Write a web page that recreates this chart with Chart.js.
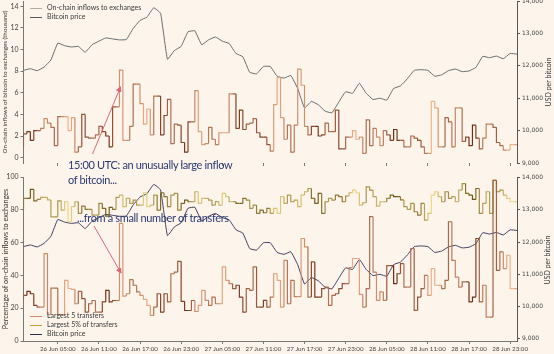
<!DOCTYPE html>
<html>
<head>
<meta charset="utf-8">
<script src="https://cdn.jsdelivr.net/npm/chart.js@4.4.1/dist/chart.umd.min.js"></script>
<style>
  body { margin: 0; width: 554px; height: 354px; overflow: hidden; position: relative; background: #fdf5ec; font-family: Lato, sans-serif; }
  canvas { position: absolute; left: 0; }
  .note { position: absolute; color: #2c3872; font-size: 11px; letter-spacing: -0.35px; white-space: nowrap; line-height: 1; }
  .lg { position: absolute; font-size: 7px; color: #3a3a3a; white-space: nowrap; line-height: 1; }
  .lg i { display: inline-block; width: 12px; height: 0; border-top: 1.2px solid; vertical-align: middle; margin-right: 5px; }
  .rt { position: absolute; font-size: 7px; color: #333; white-space: nowrap; transform: translate(-50%, -50%) rotate(-90deg); line-height: 1; }
</style>
</head>
<body>
<canvas id="topChart" width="554" height="186"></canvas>
<canvas id="bottomChart" width="554" height="188"></canvas>

<svg width="554" height="354" style="position:absolute;left:0;top:0">
  <defs>
    <marker id="head" markerWidth="6" markerHeight="6" refX="5" refY="3" orient="auto" markerUnits="userSpaceOnUse">
      <path d="M0,0 L6,3 L0,6 Z" fill="#d9687a"/>
    </marker>
  </defs>
  <line x1="92.5" y1="154" x2="120.5" y2="87" stroke="#d9687a" stroke-width="1" marker-end="url(#head)"/>
  <line x1="94" y1="226" x2="121" y2="273" stroke="#d9687a" stroke-width="1" marker-end="url(#head)"/>
</svg>

<div class="note" style="left:68px;top:159px">15:00 UTC: an unusually large inflow</div>
<div class="note" style="left:68px;top:174px">of bitcoin...</div>
<div class="note" style="left:77px;top:212px">...from a small number of transfers</div>

<div class="lg" style="left:30px;top:4px"><i style="border-color:#b3aaa3"></i>On-chain inflows to exchanges</div>
<div class="lg" style="left:30px;top:13px"><i style="border-color:#5a5a5c"></i>Bitcoin price</div>

<div class="lg" style="left:30px;top:312px"><i style="border-color:#d0886a"></i>Largest 5 transfers</div>
<div class="lg" style="left:30px;top:321px"><i style="border-color:#c9a132"></i>Largest 5% of transfers</div>
<div class="lg" style="left:30px;top:330px"><i style="border-color:#2b2d52"></i>Bitcoin price</div>

<div class="rt" style="left:548px;top:82px">USD per bitcoin</div>
<div class="rt" style="left:547px;top:260px">USD per bitcoin</div>

<script>
// half-hourly step data, 26 Jun 00:00 to 29 Jun 00:00 (hours from start)
const inflowThousand = [
  1.0, 2.2, 2.4, 1.6, 2.5, 2.5, 2.7, 3.6, 3.2, 2.8,
  1.1, 3.8, 3.8, 3.8, 2.5, 3.7, 0.5, 1.0, 4.0, 1.9,
  1.8, 1.8, 2.1, 2.9, 2.4, 2.0, 1.0, 4.7, 4.7, 8.1,
  1.6, 1.6, 2.9, 6.8, 6.8, 5.0, 3.1, 4.5, 2.1, 5.7,
  5.7, 2.1, 3.9, 5.4, 1.3, 3.1, 3.0, 1.4, 0.5, 3.3,
  3.3, 6.2, 2.4, 1.2, 1.3, 2.8, 1.7, 1.2, 2.3, 2.3,
  2.3, 5.9, 5.9, 2.7, 4.4, 2.6, 3.1, 3.2, 3.6, 2.3,
  1.9, 1.9, 1.2, 0.6, 4.9, 7.4, 3.7, 1.7, 3.0, 0.5,
  3.0, 8.2, 6.7, 2.9, 2.1, 2.9, 2.9, 2.0, 2.1, 3.2,
  2.4, 2.4, 4.4, 0.8, 0.8, 1.9, 1.9, 2.5, 1.7, 1.9,
  0.4, 3.5, 1.1, 2.7, 1.9, 1.1, 2.5, 2.1, 1.6, 2.6,
  1.6, 1.6, 1.0, 1.0, 2.0, 1.8, 1.6, 1.0, 0.4, 0.4,
  5.2, 4.6, 1.0, 1.0, 3.7, 3.3, 1.0, 4.6, 4.6, 1.5,
  1.9, 1.1, 3.0, 1.8, 0.8, 1.8, 3.1, 3.1, 2.8, 1.4,
  1.1, 0.7, 0.7, 1.2
];

const largest5Pct = [
  25.8, 27.8, 30.3, 28.8, 21.7, 20.7, 20.7, 53.3, 16, 32.3,
  32.3, 16, 16, 37, 32, 31.5, 22.7, 30.3, 25.8, 17.6,
  22.7, 24.7, 17.6, 17.6, 23.8, 30.9, 23.9, 24.7, 24.7, 71.7,
  27.4, 28.8, 37.4, 34, 29.9, 27.8, 25.4, 21.7, 15.6, 20.7,
  28.8, 17.6, 28.8, 23.8, 41, 42, 48.6, 24.2, 18.6, 18.6,
  24.7, 18, 21.7, 30.9, 24.8, 21.7, 26.8, 22.7, 22.7, 45.2,
  37, 35, 31.9, 34, 26.8, 17.6, 31.9, 30.9, 45.2, 20.7,
  20.7, 24.8, 20.7, 26.8, 41, 37, 20.7, 49.2, 22.7, 37,
  27, 27, 62.5, 57.4, 26.8, 48.2, 26.8, 26.8, 31.9, 32.9,
  21.7, 27.8, 28.8, 31.9, 35, 35, 44.8, 50.3, 50.3, 28.4,
  20.7, 31.9, 75.8, 42, 24.8, 29.9, 24.8, 46, 46, 35,
  41, 47.2, 32.9, 32.9, 56.4, 18.7, 26.8, 31.9, 40, 27.8,
  44.1, 34, 34, 31.9, 37, 72.7, 49.2, 39, 32.9, 36,
  36, 23.8, 26.8, 62.5, 23.8, 34, 14.6, 14.6, 98, 43.1,
  54.3, 44.1, 52.3, 31.9
];

const largest5PctOfTransfers = [
  80.2, 87, 87, 92.5, 85.5, 86.3, 87.6, 87.6, 86, 75.7,
  75.7, 85.5, 79.8, 84.9, 72.7, 81.9, 84.9, 77.8, 82.3, 80.2,
  80.2, 76.8, 76.8, 83.9, 80.9, 76.1, 81.5, 80.2, 87.6, 89,
  81.9, 87, 83.9, 85.9, 82.9, 82.9, 90.4, 81.9, 82.9, 89,
  79.8, 90.4, 88, 81.9, 89, 90, 79.8, 83.9, 85.9, 84.9,
  84.9, 91, 83.9, 87, 87, 85.9, 82.9, 85, 82.9, 90,
  88, 84.9, 84.9, 83.9, 83.9, 87, 85.9, 80.9, 82.9, 77.8,
  79.8, 78.2, 80.9, 77.8, 80.9, 77.8, 88, 83.9, 89, 84.9,
  85.9, 81.9, 89, 91, 93, 87, 83.9, 90, 77.8, 84.9,
  87, 85.9, 89, 88, 84.9, 88.4, 90.4, 92, 90.4, 82.9,
  84.3, 94, 92, 88, 82.3, 84.9, 84.9, 87, 89, 88,
  88, 86, 81.9, 80.2, 83.9, 78.8, 76.8, 83.9, 73.7, 77.8,
  89, 91, 88, 84.9, 91, 87, 88, 84.9, 92, 96,
  90, 89, 86.3, 93, 77.8, 83.9, 91, 77.8, 98, 91,
  92, 89, 87, 84.9
];

// hourly bitcoin price, USD
const bitcoinPrice = [
  11860, 11910, 11850, 11960, 12180, 12700, 12620, 12580, 12600, 12420,
  12650, 12760, 12860, 12830, 12800, 12810, 13150, 13400, 13500, 13790,
  13620, 12200, 12470, 12600, 13050, 13080, 12650, 12800, 12890, 12760,
  12690, 12380, 12280, 11800, 11750, 11980, 11980, 11680, 11620, 11700,
  11300, 10700, 10900, 10800, 10600, 10550, 10880, 11200, 11150, 11460,
  11150, 10960, 11000, 10940, 11300, 11380, 11600, 11860, 11880, 11860,
  11680, 11720, 11850, 11900, 11820, 11840, 11950, 12290, 12250, 12300,
  12220, 12380, 12360
];

const tickHours = [5, 11, 17, 23, 29, 35, 41, 47, 53, 59, 65, 71];
const tickLabels = ['26 Jun 05:00', '26 Jun 11:00', '26 Jun 17:00', '26 Jun 23:00',
  '27 Jun 05:00', '27 Jun 11:00', '27 Jun 17:00', '27 Jun 23:00',
  '28 Jun 05:00', '28 Jun 11:00', '28 Jun 17:00', '28 Jun 23:00'];
const inflowTicks = [0, 2, 4, 6, 8, 10, 12, 14];
const pctTicks = [0, 20, 40, 60, 80, 100];
const priceTicks = [9000, 10000, 11000, 12000, 13000, 14000];

// step series: each value holds for half an hour, close the last step at 72h
function stepPoints(values) {
  const pts = values.map((v, i) => ({ x: i / 2, y: v }));
  pts.push({ x: values.length / 2, y: values[values.length - 1] });
  return pts;
}
const pricePoints = bitcoinPrice.map((v, i) => ({ x: i, y: v }));

function mix(a, b, t) {
  const pa = a.match(/\w\w/g).map(h => parseInt(h, 16));
  const pb = b.match(/\w\w/g).map(h => parseInt(h, 16));
  return 'rgb(' + pa.map((c, i) => Math.round(c + (pb[i] - c) * t)).join(',') + ')';
}
// shading along the line, light to dark
function shade(light, dark) {
  return ctx => {
    const i = ctx.p0DataIndex;
    const t = 0.5 + (Math.sin(i * 0.83) + Math.sin(i * 0.29 + 1.3)) / 4;
    return mix(light, dark, t);
  };
}

const tickFont = { family: 'Lato', size: 7 };
const xFont = { family: 'Lato', size: 6.2 };
const rightFont = { family: 'DejaVu Sans', size: 6 };

function fixedTicks(list) {
  return axis => { axis.ticks = list.map(v => ({ value: v })); };
}

function yLeft(min, max, ticks, title, titleSize) {
  return {
    position: 'left', min: min, max: max,
    afterBuildTicks: fixedTicks(ticks),
    afterFit: s => { s.width = 23.5; },
    ticks: { font: tickFont, color: '#444', padding: 2, autoSkip: false },
    grid: { drawOnChartArea: false, tickLength: 3, color: '#777' },
    border: { color: '#777', width: 1 },
    title: { display: true, text: title, font: { family: 'Lato', size: titleSize }, color: '#333', padding: { top: 1, bottom: 0 } }
  };
}

function yRight(min, max) {
  return {
    position: 'right', min: min, max: max,
    afterBuildTicks: fixedTicks(priceTicks),
    afterFit: s => { s.width = 37; },
    ticks: { font: rightFont, color: '#444', padding: 2, autoSkip: false },
    grid: { drawOnChartArea: false, tickLength: 3, color: '#555' },
    border: { color: '#555', width: 1 }
  };
}

function xAxis(showLabels) {
  return {
    type: 'linear', min: 0, max: 72,
    afterBuildTicks: fixedTicks(tickHours),
    afterFit: s => { s.height = 14; },
    ticks: {
      display: showLabels, autoSkip: false, maxRotation: 0, padding: 1,
      font: xFont, color: '#444',
      callback: v => tickLabels[tickHours.indexOf(v)]
    },
    grid: { drawOnChartArea: false, tickLength: 3, color: '#777' },
    border: { display: showLabels, color: '#777' }
  };
}

const common = {
  responsive: false,
  animation: false,
  layout: { padding: { top: 10, left: 0, right: 0, bottom: 0 } },
  plugins: { legend: { display: false }, tooltip: { enabled: false } },
  elements: { point: { radius: 0 } }
};

const topChart = new Chart(document.getElementById('topChart'), {
  type: 'line',
  data: {
    datasets: [{
      label: 'On-chain inflows to exchanges',
      data: stepPoints(inflowThousand),
      yAxisID: 'y',
      stepped: 'after',
      borderWidth: 1.2,
      borderColor: '#c47650',
      segment: { borderColor: shade('f2b48e', '6e2c14') }
    }, {
      label: 'Bitcoin price',
      data: pricePoints,
      yAxisID: 'y1',
      borderWidth: 0.9,
      borderColor: '#5a5d62',
      tension: 0.1
    }]
  },
  options: Object.assign({}, common, {
    scales: {
      x: xAxis(false),
      y: yLeft(-0.5, 14.5, inflowTicks, 'On-chain inflows of bitcoin to exchanges (thousand)', 6.3),
      y1: yRight(9000, 14000)
    }
  })
});

const bottomChart = new Chart(document.getElementById('bottomChart'), {
  type: 'line',
  data: {
    datasets: [{
      label: 'Largest 5 transfers',
      data: stepPoints(largest5Pct),
      yAxisID: 'y',
      stepped: 'after',
      borderWidth: 1.2,
      borderColor: '#c47650',
      segment: { borderColor: shade('f2b48e', '6e2c14') }
    }, {
      label: 'Largest 5% of transfers',
      data: stepPoints(largest5PctOfTransfers),
      yAxisID: 'y',
      stepped: 'after',
      borderWidth: 1.2,
      borderColor: '#c9a132',
      segment: { borderColor: shade('f0d88a', '6a5412') }
    }, {
      label: 'Bitcoin price',
      data: pricePoints,
      yAxisID: 'y1',
      borderWidth: 0.9,
      borderColor: '#2b2d52',
      tension: 0.1
    }]
  },
  options: Object.assign({}, common, {
    scales: {
      x: xAxis(true),
      y: yLeft(0, 100, pctTicks, 'Percentage of on-chain inflows to exchanges', 7.2),
      y1: yRight(8930, 14020)
    }
  })
});

// place each canvas so its plot area sits where the panels are
topChart.canvas.style.top = (0.7 - topChart.chartArea.top) + 'px';
bottomChart.canvas.style.top = (177 - bottomChart.chartArea.top) + 'px';
</script>
</body>
</html>
